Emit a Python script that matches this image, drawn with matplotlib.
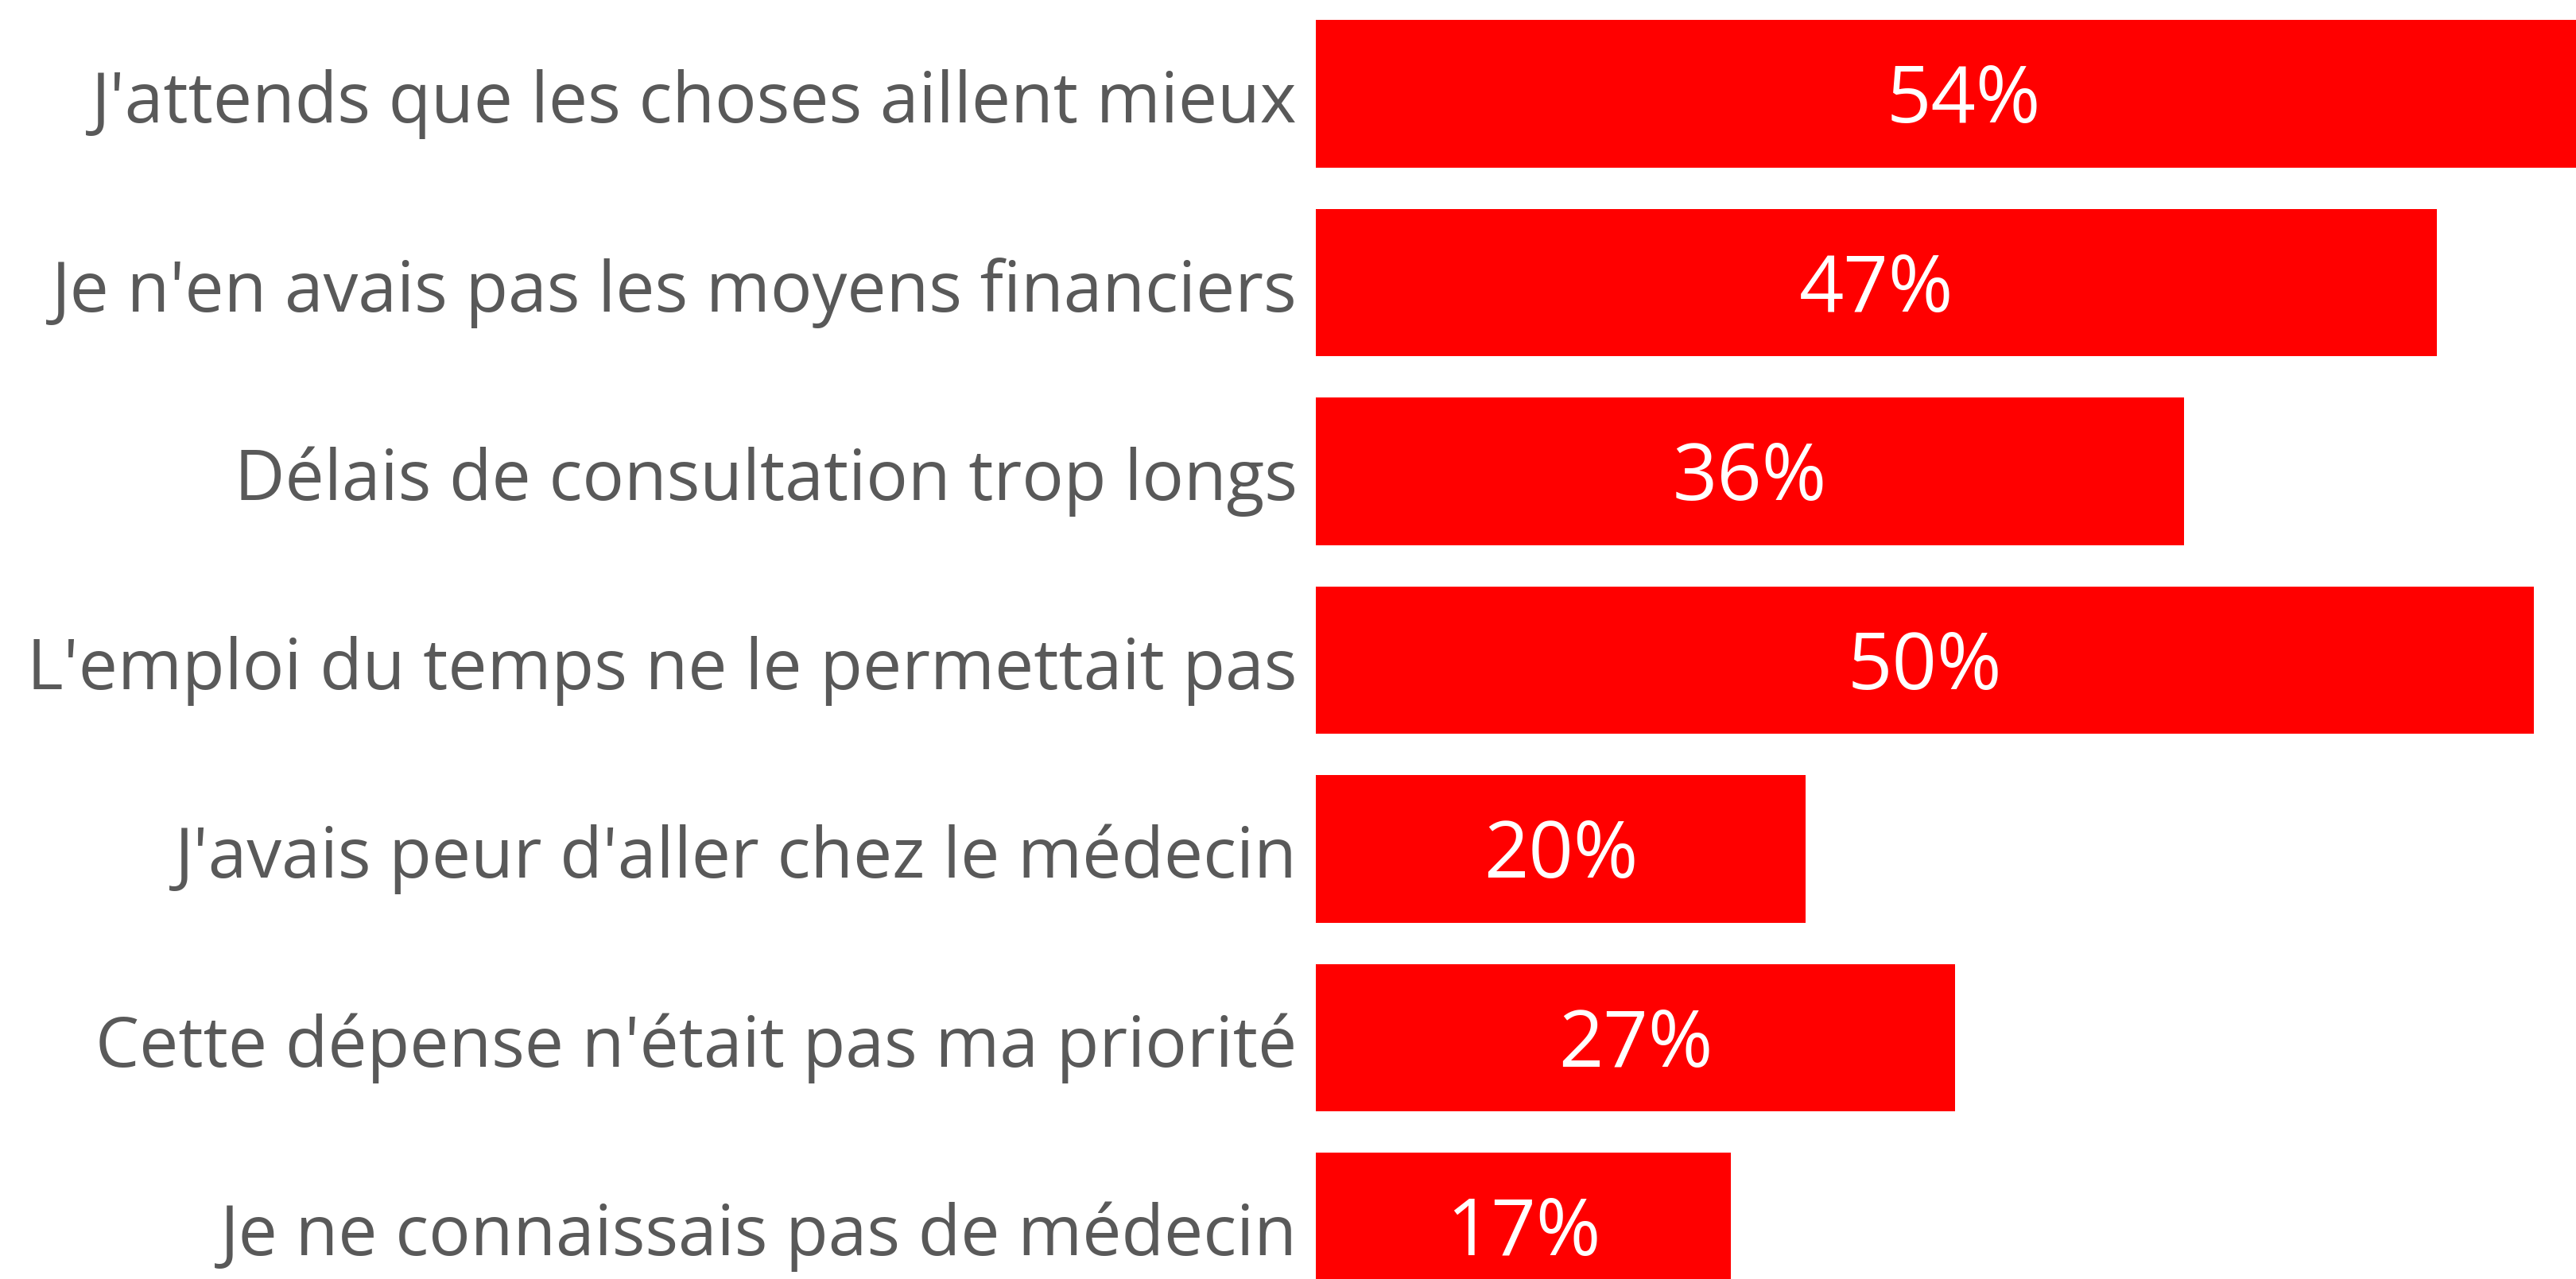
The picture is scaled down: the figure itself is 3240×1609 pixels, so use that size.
import matplotlib
matplotlib.use("Agg")
import matplotlib.pyplot as plt

categories = [
    "J'attends que les choses aillent mieux",
    "Je n'en avais pas les moyens financiers",
    "Délais de consultation trop longs",
    "L'emploi du temps ne le permettait pas",
    "J'avais peur d'aller chez le médecin",
    "Cette dépense n'était pas ma priorité",
    "Je ne connaissais pas de médecin",
]
values = [53.7, 46.5, 36.0, 50.5, 20.3, 26.5, 17.2]
value_labels = ["54%", "47%", "36%", "50%", "20%", "27%", "17%"]

W, H = 3241, 1609
DPI = 100
fig = plt.figure(figsize=(W / DPI, H / DPI), dpi=DPI, facecolor="white")

left_px = 1655
ax_top = 1 + 0.75 / H
ax_h = 1662.5 / H
ax = fig.add_axes([left_px / W, ax_top - ax_h, (W - left_px) / W, ax_h])

FONT = "Open Sans"
GRAY = "#595959"
RED = "#FF0000"
BASE_OFF = 0.152  # baseline offset below bar centre, in category units

y = list(range(len(categories)))
ax.barh(y, values, height=0.783, color=RED, edgecolor="none")
ax.set_ylim(len(categories) - 0.5, -0.5)
ax.set_xlim(0, 52.29)

for yi, v, lab in zip(y, values, value_labels):
    ax.text(v / 2, yi + BASE_OFF, lab, ha="center", va="baseline",
            color="white", fontsize=71, family=FONT)

for yi, cat in zip(y, categories):
    ax.annotate(cat, xy=(0, yi + BASE_OFF), xycoords=("axes fraction", "data"),
                xytext=(-17, 0), textcoords="offset points",
                ha="right", va="baseline", color=GRAY, fontsize=63,
                family=FONT, annotation_clip=False)

ax.set_yticks([])
ax.set_xticks([])
for s in ax.spines.values():
    s.set_visible(False)

fig.savefig("out.png", dpi=DPI, facecolor="white")
